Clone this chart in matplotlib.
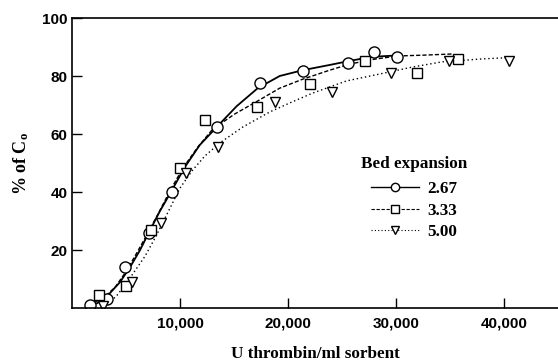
import matplotlib
matplotlib.use("Agg")
import matplotlib.pyplot as plt
from matplotlib.lines import Line2D

# ---- measured points ----
c_x = [1700, 3200, 4900, 7100, 9300, 13400, 17400, 21400, 25600, 27950, 30100]
c_y = [0.9, 3.0, 14.0, 25.8, 40.0, 62.5, 77.7, 81.8, 84.4, 88.4, 86.6]

s_x = [2500, 5000, 7300, 10000, 12300, 17100, 22050, 27100, 31950, 35700]
s_y = [4.4, 7.5, 27.0, 48.3, 64.8, 69.2, 77.2, 85.3, 81.1, 85.8]

t_x = [2850, 5550, 8200, 10600, 13500, 18750, 24050, 29500, 34950, 40500]
t_y = [0.6, 8.9, 29.3, 46.7, 55.4, 71.1, 74.6, 80.9, 85.3, 85.3]

# ---- fitted curves ----
cc_x = [2300, 2590, 3510, 4440, 5360, 6290, 7030, 8140, 9250, 10450, 11830,
        13400, 15250, 17200, 19230, 21360, 23850, 25700, 27740, 30140]
cc_y = [1.6, 2.3, 5.1, 8.9, 14.0, 19.9, 25.4, 33.4, 40.6, 48.6, 56.2,
        62.4, 69.6, 75.8, 80.0, 82.0, 83.8, 85.2, 86.6, 87.1]

sc_x = [2130, 3050, 3980, 4900, 5820, 6750, 7950, 9060, 10260, 11650, 13040,
        15070, 17200, 19230, 21360, 23850, 25700, 28010, 30140, 32640, 35220]
sc_y = [2.0, 4.0, 7.1, 12.0, 17.8, 24.0, 32.3, 40.3, 48.2, 55.5, 61.7,
        66.9, 71.4, 75.8, 78.9, 82.0, 84.1, 85.8, 86.9, 87.2, 87.6]

tc_x = [3330, 4250, 5360, 6750, 7770, 8880, 9990, 11090, 12300, 13680, 15810,
        18310, 20160, 22280, 25420, 29400, 31530, 34300, 38000, 40310]
tc_y = [1.3, 4.7, 10.3, 17.8, 24.7, 33.0, 41.3, 47.2, 52.4, 56.9, 62.4,
        67.6, 70.7, 74.1, 78.3, 81.4, 83.1, 84.9, 85.9, 86.3]

labels = ["2.67", "3.33", "5.00"]
x_ticks = [10000, 20000, 30000, 40000]
x_ticklabels = ["10,000", "20,000", "30,000", "40,000"]
y_ticks = [20, 40, 60, 80, 100]

plt.rcParams["mathtext.fontset"] = "custom"
plt.rcParams["mathtext.rm"] = "Liberation Serif:bold"
plt.rcParams["mathtext.it"] = "Liberation Serif:bold"
plt.rcParams["mathtext.bf"] = "Liberation Serif:bold"

fig = plt.figure(figsize=(5.58, 3.61), dpi=100)
ax = fig.add_axes([72 / 558, 1 - 308 / 361, 1 - 72 / 558, (308 - 18) / 361])

ax.plot(cc_x, cc_y, color="black", lw=1.3, ls="-")
ax.plot(sc_x, sc_y, color="black", lw=1.0, ls=(0, (3, 1.5)))
ax.plot(tc_x, tc_y, color="black", lw=1.0, ls=(0, (1, 2)))

ax.plot(c_x, c_y, ls="none", marker="o", ms=8, mfc="white", mec="black", mew=1.0)
ax.plot(s_x, s_y, ls="none", marker="s", ms=7, mfc="white", mec="black", mew=1.0)
ax.plot(t_x, t_y, ls="none", marker="v", ms=7, mfc="white", mec="black", mew=1.0)

ax.set_xlim(0, 45000)
ax.set_ylim(0, 100)
ax.set_xticks(x_ticks)
ax.set_xticklabels(x_ticklabels)
ax.set_yticks(y_ticks)

for sp in ["left", "bottom", "top"]:
    ax.spines[sp].set_linewidth(1.2)
ax.spines["right"].set_visible(False)

ax.tick_params(axis="both", direction="in", length=7, width=1.0)
ax.tick_params(axis="x", pad=6)
ax.tick_params(axis="y", pad=3)
for lab in ax.get_xticklabels() + ax.get_yticklabels():
    lab.set_family("Liberation Sans")
    lab.set_fontweight("bold")
    lab.set_fontsize(11)

ax.set_xlabel("U thrombin/ml sorbent", family="Liberation Serif",
              fontweight="bold", fontsize=12.3, labelpad=11)
ax.set_ylabel(r"% of C$_{\rm o}$", family="Liberation Serif",
              fontweight="bold", fontsize=13, labelpad=8)

handles = [
    Line2D([], [], color="black", lw=1.0, ls="-", marker="o", ms=6, mfc="white", mec="black"),
    Line2D([], [], color="black", lw=0.8, ls=(0, (3, 1.5)), marker="s", ms=5.5, mfc="white", mec="black"),
    Line2D([], [], color="black", lw=0.8, ls=(0, (1, 2)), marker="v", ms=6, mfc="white", mec="black"),
]
leg = ax.legend(handles, labels, title="Bed expansion", frameon=False,
                loc="upper left", bbox_to_anchor=(349 / 558, 1 - 144 / 361),
                bbox_transform=fig.transFigure,
                prop={"family": "Liberation Serif", "weight": "bold", "size": 12.3},
                title_fontproperties={"family": "Liberation Serif", "weight": "bold", "size": 12.3},
                handlelength=2.8, handletextpad=0.45, labelspacing=0.31, borderpad=0.2)
leg._legend_box.sep = 6.7

fig.savefig("out.png", dpi=100)
